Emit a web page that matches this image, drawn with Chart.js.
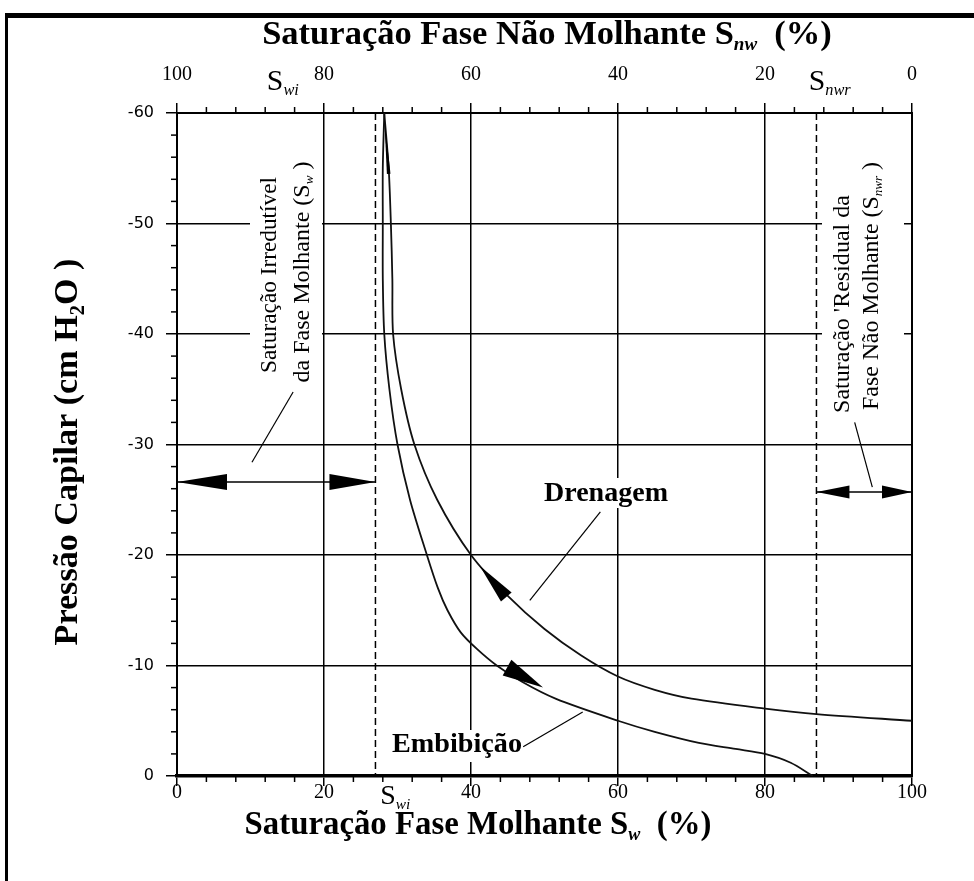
<!DOCTYPE html>
<html>
<head>
<meta charset="utf-8">
<script src="https://cdn.jsdelivr.net/npm/chart.js@4.4.1/dist/chart.umd.min.js"></script>
<style>
  html, body { margin: 0; padding: 0; background: #fff; }
  #wrap { position: relative; width: 974px; height: 881px; }
</style>
</head>
<body>
<div id="wrap"><canvas id="chart" width="974" height="881"></canvas></div>
<script>
// Values (x = Sw %, y = capillary pressure cm H2O)
const drainX = [28.2, 28.8, 29.1, 29.3, 29.4, 30.5, 32.3, 35.4, 40.0, 45.0, 50.0, 55.0, 60.0, 65.0, 70.0, 80.0, 87.0, 100];
const drainY = [-60, -55, -50, -45, -40, -35, -30, -25, -20, -16.3, -13.3, -10.9, -9.0, -7.8, -7.0, -6.1, -5.6, -5.0];
const imbibX = [28.2, 28.0, 28.0, 28.0, 28.2, 28.9, 30.0, 31.7, 34.0, 35.5, 36.8, 38.6, 40.8, 43.5, 47.0, 51.5, 60.0, 65.0, 71.0, 76.0, 80.0, 83.5, 86.5];
const imbibY = [-60, -55, -50, -45, -40, -35, -30, -25, -20, -17, -15, -13, -11.5, -10, -8.5, -7, -5.0, -4.0, -3.0, -2.45, -2.0, -1.2, 0];
const xTickStep = 20;
const yTickStep = 10;
const swi = 27.0;   // irreducible wetting saturation
const snwr = 87.0;  // 100 - residual non-wetting saturation

const SERIF = '"Liberation Serif", "DejaVu Serif", serif';
const SANS = '"DejaVu Sans", Verdana, sans-serif';

function toPts(xs, ys) {
    return xs.map((x, i) => ({ x: x, y: ys[i] }));
}

// rich text helpers (for subscripts)
function fontFor(p, size, fam, weight) {
    if (p.sub) return 'italic ' + weight + ' ' + (size * 0.55) + 'px ' + fam;
    return weight + ' ' + size + 'px ' + fam;
}
function richWidth(ctx, parts, size, fam, weight) {
    let w = 0;
    parts.forEach(p => { ctx.font = fontFor(p, size, fam, weight); w += ctx.measureText(p.t).width; });
    return w;
}
function fitSize(ctx, parts, target, fam, weight) {
    return 20 * target / richWidth(ctx, parts, 20, fam, weight);
}
function drawRich(ctx, parts, cx, cy, target, fam, weight, rot) {
    const size = fitSize(ctx, parts, target, fam, weight);
    const w = richWidth(ctx, parts, size, fam, weight);
    ctx.save();
    ctx.translate(cx, cy);
    if (rot) ctx.rotate(rot);
    ctx.fillStyle = '#000';
    ctx.textBaseline = 'middle';
    ctx.textAlign = 'left';
    let x = -w / 2;
    parts.forEach(p => {
        ctx.font = fontFor(p, size, fam, weight);
        ctx.fillText(p.t, x, p.sub ? size * 0.28 : 0);
        x += ctx.measureText(p.t).width;
    });
    ctx.restore();
}
function arrowHead(ctx, tip, base, half) {
    const dx = tip[0] - base[0], dy = tip[1] - base[1];
    const len = Math.hypot(dx, dy);
    const nx = -dy / len, ny = dx / len;
    ctx.beginPath();
    ctx.moveTo(tip[0], tip[1]);
    ctx.lineTo(base[0] + nx * half, base[1] + ny * half);
    ctx.lineTo(base[0] - nx * half, base[1] - ny * half);
    ctx.closePath();
    ctx.fill();
}
function line(ctx, a, b) {
    ctx.beginPath();
    ctx.moveTo(a[0], a[1]);
    ctx.lineTo(b[0], b[1]);
    ctx.stroke();
}

const decorPlugin = {
    id: 'decor',
    beforeDatasetsDraw(chart) {
        const ctx = chart.ctx, a = chart.chartArea;
        const sx = chart.scales.x;
        ctx.save();
        // white boxes behind annotation texts
        ctx.fillStyle = '#fff';
        ctx.fillRect(250, 150, 72, 245);
        ctx.fillRect(822, 150, 82, 270);
        ctx.fillRect(540, 478, 132, 30);
        ctx.fillRect(388, 730, 137, 32);
        // dashed saturation limits
        ctx.strokeStyle = '#000';
        ctx.lineWidth = 1.5;
        ctx.setLineDash([7, 4]);
        [swi, snwr].forEach(v => {
            const px = sx.getPixelForValue(v);
            line(ctx, [px, a.top], [px, a.bottom]);
        });
        ctx.restore();
    },
    afterDatasetsDraw(chart) {
        const ctx = chart.ctx, a = chart.chartArea;
        const sx = chart.scales.x, sy = chart.scales.y;
        const P = (x, y) => [sx.getPixelForValue(x), sy.getPixelForValue(y)];
        ctx.save();
        ctx.strokeStyle = '#000';
        ctx.fillStyle = '#000';

        // minor ticks
        ctx.lineWidth = 1.5;
        for (let v = 0; v <= 100; v += 4) {
            if (v % 20 === 0) continue;
            const px = sx.getPixelForValue(v);
            line(ctx, [px, a.bottom], [px, a.bottom + 6]);
            line(ctx, [px, a.top], [px, a.top - 6]);
        }
        for (let v = -60; v <= 0; v += 2) {
            if (v % 10 === 0) continue;
            const py = sy.getPixelForValue(v);
            line(ctx, [a.left, py], [a.left - 6, py]);
        }

        // double arrows
        ctx.lineWidth = 1.5;
        const la = P(0, -26.6), lb = P(swi, -26.6);
        line(ctx, la, lb);
        arrowHead(ctx, la, [la[0] + 50, la[1]], 8);
        arrowHead(ctx, lb, [lb[0] - 46, lb[1]], 8);
        const ra = P(snwr, -25.7), rb = P(100, -25.7);
        line(ctx, ra, rb);
        arrowHead(ctx, ra, [ra[0] + 33, ra[1]], 6.5);
        arrowHead(ctx, rb, [rb[0] - 30, rb[1]], 6.5);

        // leader lines
        ctx.lineWidth = 1.2;
        line(ctx, P(10.2, -28.4), P(15.8, -34.75));
        line(ctx, P(92.2, -32.0), P(94.6, -26.15));
        line(ctx, P(57.6, -23.9), P(48.0, -15.9));
        line(ctx, P(47.1, -2.65), P(55.2, -5.8));

        // direction arrows on the curves
        arrowHead(ctx, P(41.2, -19.0), P(44.8, -16.2), 7);
        arrowHead(ctx, P(49.8, -8.0), P(44.9, -9.8), 9);
        arrowHead(ctx, P(28.2, -59.6), P(28.8, -54.5), 1.8);

        // curve labels
        drawRich(ctx, [{ t: 'Drenagem' }], 606, 494, 124, SERIF, 'bold');
        drawRich(ctx, [{ t: 'Embibição' }], 457, 745, 130, SERIF, 'bold');

        // rotated annotations
        const R = -Math.PI / 2;
        drawRich(ctx, [{ t: 'Saturação Irredutível' }], 270, 275, 196, SERIF, 'normal', R);
        drawRich(ctx, [{ t: 'da Fase Molhante (S' }, { t: 'w', sub: true }, { t: ' )' }], 303, 272, 221, SERIF, 'normal', R);
        drawRich(ctx, [{ t: "Saturação 'Residual da" }], 843, 304, 218, SERIF, 'normal', R);
        drawRich(ctx, [{ t: 'Fase Não Molhante (S' }, { t: 'nwr', sub: true }, { t: ' )' }], 872, 286, 248, SERIF, 'normal', R);

        // S labels on axes
        drawRich(ctx, [{ t: 'S' }, { t: 'wi', sub: true }], sx.getPixelForValue(14.4), a.top - 31, 32, SERIF, 'normal');
        drawRich(ctx, [{ t: 'S' }, { t: 'nwr', sub: true }], sx.getPixelForValue(88.8), a.top - 31, 42, SERIF, 'normal');
        drawRich(ctx, [{ t: 'S' }, { t: 'wi', sub: true }], sx.getPixelForValue(29.7), a.bottom + 21, 30, SERIF, 'normal');

        // axis titles
        drawRich(ctx, [{ t: 'Saturação Fase Não Molhante S' }, { t: 'nw', sub: true }, { t: '  (%)' }], 547, 35, 570, SERIF, 'bold');
        drawRich(ctx, [{ t: 'Saturação Fase Molhante S' }, { t: 'w', sub: true }, { t: '  (%)' }], 478, 826, 467, SERIF, 'bold');
        drawRich(ctx, [{ t: 'Pressão Capilar (cm H₂O )' }], 68, 452, 387, SERIF, 'bold', R);

        // outer frame
        ctx.fillRect(5, 13, 969, 5);
        ctx.fillRect(5, 13, 3, 868);
        ctx.restore();
    }
};

const ctx = document.getElementById('chart').getContext('2d');
new Chart(ctx, {
    type: 'scatter',
    data: {
        datasets: [
            { label: 'Drenagem', data: toPts(drainX, drainY) },
            { label: 'Embibição', data: toPts(imbibX, imbibY) }
        ]
    },
    options: {
        responsive: false,
        animation: false,
        devicePixelRatio: 1,
        layout: { padding: 0 },
        showLine: true,
        elements: {
            line: { borderColor: '#111', borderWidth: 1.8, tension: 0.3, fill: false },
            point: { radius: 0 }
        },
        plugins: { legend: { display: false }, tooltip: { enabled: false } },
        scales: {
            x: {
                type: 'linear', position: 'bottom', min: 0, max: 100,
                ticks: { stepSize: xTickStep, color: '#000', padding: -5, font: { family: SERIF, size: 20 }, maxRotation: 0 },
                grid: { color: '#000', lineWidth: 1.5, tickLength: 10 },
                border: { color: '#000', width: 3.5 },
                afterFit(s) { s.height = 105; }
            },
            x2: {
                type: 'linear', position: 'top', min: 0, max: 100, reverse: true,
                ticks: { stepSize: xTickStep, color: '#000', padding: 16, font: { family: SERIF, size: 20 }, maxRotation: 0 },
                grid: { drawOnChartArea: false, color: '#000', lineWidth: 1.5, tickLength: 10 },
                border: { color: '#000', width: 2 },
                afterFit(s) { s.height = 113; }
            },
            y: {
                type: 'linear', position: 'left', min: -60, max: 0, reverse: true,
                ticks: { stepSize: yTickStep, color: '#000', padding: 12, font: { family: SANS, size: 16 } },
                grid: { color: '#000', lineWidth: 1.5, tickLength: 11 },
                border: { color: '#000', width: 2 },
                afterFit(s) { s.width = 177; }
            },
            y2: {
                type: 'linear', position: 'right', min: -60, max: 0, reverse: true,
                ticks: { display: false },
                grid: { drawOnChartArea: false, drawTicks: false },
                border: { color: '#000', width: 2 },
                afterFit(s) { s.width = 62; }
            }
        }
    },
    plugins: [decorPlugin]
});
</script>
</body>
</html>
